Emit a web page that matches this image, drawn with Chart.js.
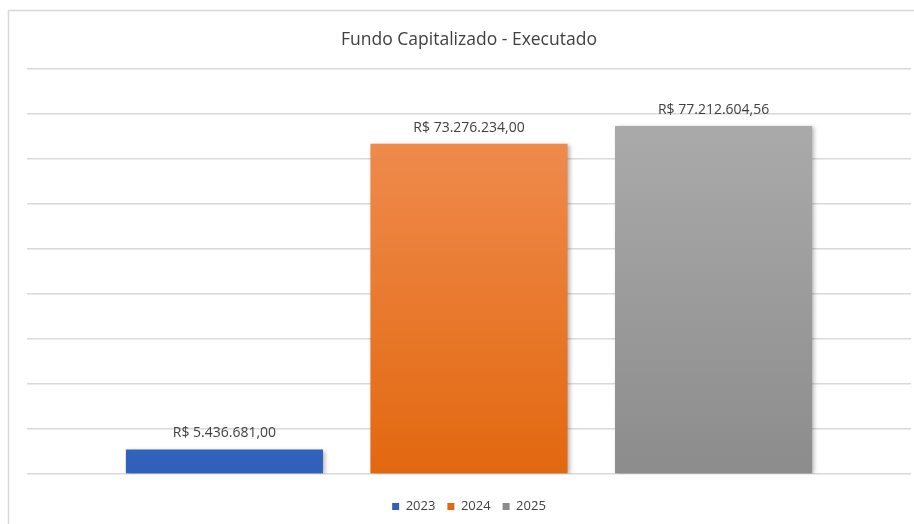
<!DOCTYPE html>
<html>
<head>
<meta charset="utf-8">
<script src="https://cdn.jsdelivr.net/npm/chart.js@4.4.1/dist/chart.umd.min.js"></script>
<style>
  html, body { margin: 0; padding: 0; background: #ffffff; }
  #wrap { position: relative; width: 914px; height: 524px; }
</style>
</head>
<body>
<div id="wrap"><canvas id="c" width="914" height="524"></canvas></div>
<script>
// ---- data ----
const chartTitle = 'Fundo Capitalizado - Executado';
const years = ['2023', '2024', '2025'];
const values = [5436681.00, 73276234.00, 77212604.56];
const yMin = 0;
const yMax = 90000000;
const yStep = 10000000;

// ---- styles ----
const gradTop = ['#5080d6', '#f2925a', '#afafaf'];
const gradBottom = ['#3060ba', '#e2680f', '#8c8c8c'];
const FONT = '"Open Sans", "Liberation Sans", sans-serif';

function fmtBRL(v) {
  return 'R$ ' + v.toLocaleString('pt-BR', { minimumFractionDigits: 2, maximumFractionDigits: 2 });
}

const framePlugin = {
  id: 'frame',
  beforeDraw(chart) {
    const ctx = chart.ctx;
    ctx.save();
    ctx.fillStyle = '#ffffff';
    ctx.fillRect(0, 0, chart.width, chart.height);
    ctx.strokeStyle = '#d9d9d9';
    ctx.lineWidth = 1.5;
    ctx.beginPath();
    ctx.moveTo(8.5, chart.height);
    ctx.lineTo(8.5, 10.5);
    ctx.lineTo(chart.width, 10.5);
    ctx.stroke();
    ctx.restore();
  }
};

const shadowPlugin = {
  id: 'barShadow',
  beforeDatasetsDraw(chart) {
    const ctx = chart.ctx;
    ctx.save();
    ctx.shadowColor = 'rgba(0,0,0,0.28)';
    ctx.shadowBlur = 4;
    ctx.shadowOffsetX = 2;
    ctx.shadowOffsetY = 1;
  },
  afterDatasetsDraw(chart) {
    chart.ctx.restore();
  }
};

const labelPlugin = {
  id: 'valueLabels',
  afterDatasetsDraw(chart) {
    const ctx = chart.ctx;
    ctx.save();
    ctx.font = '14px ' + FONT;
    ctx.fillStyle = '#404040';
    ctx.textAlign = 'center';
    ctx.textBaseline = 'middle';
    chart.data.datasets.forEach((ds, i) => {
      const meta = chart.getDatasetMeta(i);
      meta.data.forEach((bar, j) => {
        ctx.fillText(fmtBRL(ds.data[j]), bar.x, bar.y - 16);
      });
    });
    ctx.restore();
  }
};

function makeGradient(i) {
  return (context) => {
    const chart = context.chart;
    const area = chart.chartArea;
    if (!area) return gradTop[i];
    const el = context.element;
    let top = area.top, bottom = area.bottom;
    if (el && typeof el.y === 'number' && typeof el.base === 'number') {
      top = el.y; bottom = el.base;
    }
    if (!isFinite(top) || !isFinite(bottom) || top === bottom) return gradTop[i];
    const g = chart.ctx.createLinearGradient(0, top, 0, bottom);
    g.addColorStop(0, gradTop[i]);
    g.addColorStop(1, gradBottom[i]);
    return g;
  };
}

const datasets = years.map((y, i) => ({
  label: y,
  data: [values[i]],
  backgroundColor: makeGradient(i),
  borderWidth: 0,
  categoryPercentage: 0.83,
  barPercentage: 0.806
}));

new Chart(document.getElementById('c'), {
  type: 'bar',
  data: { labels: [''], datasets },
  options: {
    responsive: false,
    animation: false,
    devicePixelRatio: 1,
    layout: { padding: { left: 27, right: 3, top: 0, bottom: 1 } },
    plugins: {
      title: {
        display: true,
        text: chartTitle,
        color: '#404040',
        font: { family: FONT, size: 17.5, weight: 'normal' },
        padding: { top: 29.5, bottom: 18 }
      },
      legend: {
        display: true,
        position: 'bottom',
        labels: {
          color: '#404040',
          font: { family: FONT, size: 13 },
          boxWidth: 7,
          boxHeight: 7,
          padding: 12
        }
      },
      tooltip: { enabled: false }
    },
    scales: {
      x: {
        display: true,
        ticks: { display: false },
        grid: { display: false },
        border: { display: false },
        afterFit(scale) { scale.height = 14; }
      },
      y: {
        min: yMin,
        max: yMax,
        ticks: { display: false, stepSize: yStep },
        border: { display: false },
        grid: { color: '#d9d9d9', lineWidth: 1.5, drawTicks: false }
      }
    }
  },
  plugins: [framePlugin, shadowPlugin, labelPlugin]
});
</script>
</body>
</html>
